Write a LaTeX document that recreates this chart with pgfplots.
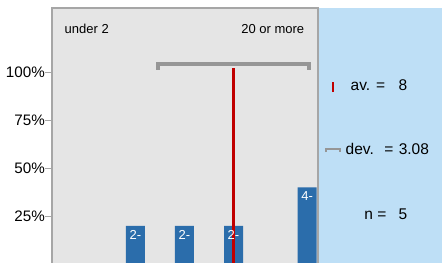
\documentclass[border=0pt]{standalone}
\usepackage{fontspec}
\setmainfont{Liberation Sans}
\usepackage{pgfplots}
\pgfplotsset{compat=1.18}
\usepackage{pgfplotstable}

\definecolor{panelgray}{RGB}{229,229,229}
\definecolor{framegray}{RGB}{166,166,166}
\definecolor{panelblue}{RGB}{190,223,246}
\definecolor{barblue}{RGB}{43,109,171}
\definecolor{meanred}{RGB}{192,0,0}
\definecolor{devgray}{RGB}{150,150,150}

\tikzset{info/.style={anchor=base west, inner sep=0pt, font=\fontsize{15.5bp}{18bp}\selectfont}}

\pgfplotstableread{
x y lab
4 20 2-
6 20 2-
8 20 2-
11 40 4-
}\bars

\begin{document}
\begin{tikzpicture}[x=1bp,y=1bp]
\path[use as bounding box] (0,0) rectangle (442,262);
% right information panel
\begin{axis}[
  at={(318.75bp,-6bp)}, anchor=south west,
  width=124bp, height=260bp, scale only axis,
  xmin=318.75, xmax=442.75, ymin=-6, ymax=254,
  axis line style={draw=none}, ticks=none,
  axis background/.style={fill=panelblue},
  clip=false,
]
\addplot[meanred, line width=2bp] coordinates {(333,170) (333,180)};
\addplot[devgray, line width=2bp] coordinates {(326,110) (326,113.5) (340,113.5) (340,110)};
\node[info] at (axis cs:350.5,171.3) {av.};
\node[info] at (axis cs:375.8,171.3) {=};
\node[info] at (axis cs:398.3,171.3) {8};
\node[info] at (axis cs:345.5,108) {dev.};
\node[info] at (axis cs:384.2,108) {=};
\node[info] at (axis cs:398.6,108) {3.08};
\node[info] at (axis cs:364.2,43) {n};
\node[info] at (axis cs:377.2,43) {=};
\node[info] at (axis cs:398.3,43) {5};
\end{axis}
% main histogram panel
\begin{axis}[
  at={(52bp,-6bp)}, anchor=south west,
  width=266bp, height=260bp, scale only axis,
  xmin=0.595, xmax=11.447, ymin=-1.87, ymax=133.3,
  axis background/.style={fill=panelgray},
  axis line style={draw=framegray, line width=1.5bp},
  xtick=\empty,
  ytick={25,50,75,100},
  yticklabels={25\%,50\%,75\%,100\%},
  tick align=outside,
  major tick length=7bp,
  tick style={draw=framegray, line width=1bp},
  ytick pos=left,
  yticklabel style={font=\fontsize{15.2bp}{18bp}\selectfont, inner sep=0pt},
]
\addplot[ybar, bar width=19bp, fill=barblue, draw=none,
  point meta=explicit symbolic,
  nodes near coords,
  nodes near coords style={anchor=north, inner sep=0pt, yshift=-4bp, text=white, font=\fontsize{13bp}{15bp}\selectfont},
] table[x=x, y=y, meta=lab] {\bars};
\addplot[meanred, line width=2.7bp] coordinates {(8,-1.87) (8,102.1)};
\addplot[devgray, line width=3.5bp] coordinates {(4.92,101.3) (4.92,104.2) (11.08,104.2) (11.08,101.3)};
\node[anchor=base west, inner sep=0pt, font=\fontsize{13bp}{15bp}\selectfont] at (rel axis cs:0.047,0.903) {under 2};
\node[anchor=base east, inner sep=0pt, font=\fontsize{13bp}{15bp}\selectfont] at (rel axis cs:0.949,0.903) {20 or more};
\end{axis}
\end{tikzpicture}
\end{document}
